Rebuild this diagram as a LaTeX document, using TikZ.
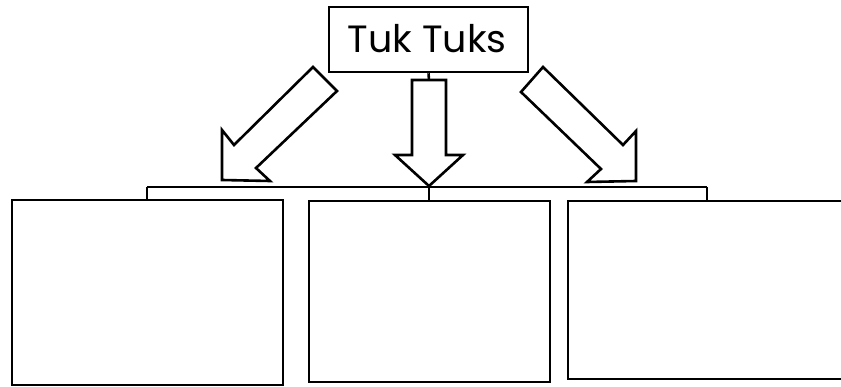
\documentclass[tikz,border=0pt]{standalone}
\usepackage{fontspec}
\setmainfont{Poppins}
\begin{document}
\begin{tikzpicture}[x=1pt,y=-1pt,
  line join=miter,
  boxnode/.style={draw=black, line width=2.6pt, inner sep=0pt},
  blockarrow/.style={draw=black, line width=2.6pt, fill=white},
  wire/.style={draw=black, line width=2.6pt}]
\useasboundingbox (0,0) rectangle (841,387);
\clip (0,0) rectangle (841,387);
\fill[white] (0,0) rectangle (841,387);
% title
\node[boxnode, minimum width=199pt, minimum height=65pt] (title) at (428.5,39.5) {};
\node[inner sep=0pt, font=\fontsize{38}{42}\selectfont] (titletext) at (427,39) {Tuk Tuks};
% boxes
\node[boxnode, minimum width=271pt, minimum height=185pt] (left) at (147.5,292.5) {};
\node[boxnode, minimum width=241pt, minimum height=181pt] (mid) at (429.5,291.5) {};
\node[boxnode, minimum width=284pt, minimum height=178pt] (right) at (710,290) {};
% bracket
\coordinate (bl) at (147,187);
\coordinate (bm) at (429,187);
\coordinate (br) at (707,187);
\draw[wire] (bl) -- (br);
\draw[wire] (bl) -- (left.north -| bl);
\draw[wire] (bm) -- (mid.north -| bm);
\draw[wire] (br) -- (right.north -| br);
% middle arrow
\coordinate (mtop) at (429,80);
\draw[wire] (title.south) -- (mtop);
\draw[blockarrow] (412,80) -- (446,80) -- (446,155) -- (463,155) -- (429,186) -- (395,155) -- (412,155) -- cycle;
% left arrow
\draw[blockarrow] (313,67) -- (337,91) -- (256,168) -- (270,181) -- (222,180) -- (222,130) -- (234,145) -- cycle;
% right arrow
\draw[blockarrow] (543,67) -- (521,92) -- (601,169) -- (587,182) -- (636,181) -- (636,131) -- (623,145) -- cycle;
\end{tikzpicture}
\end{document}
